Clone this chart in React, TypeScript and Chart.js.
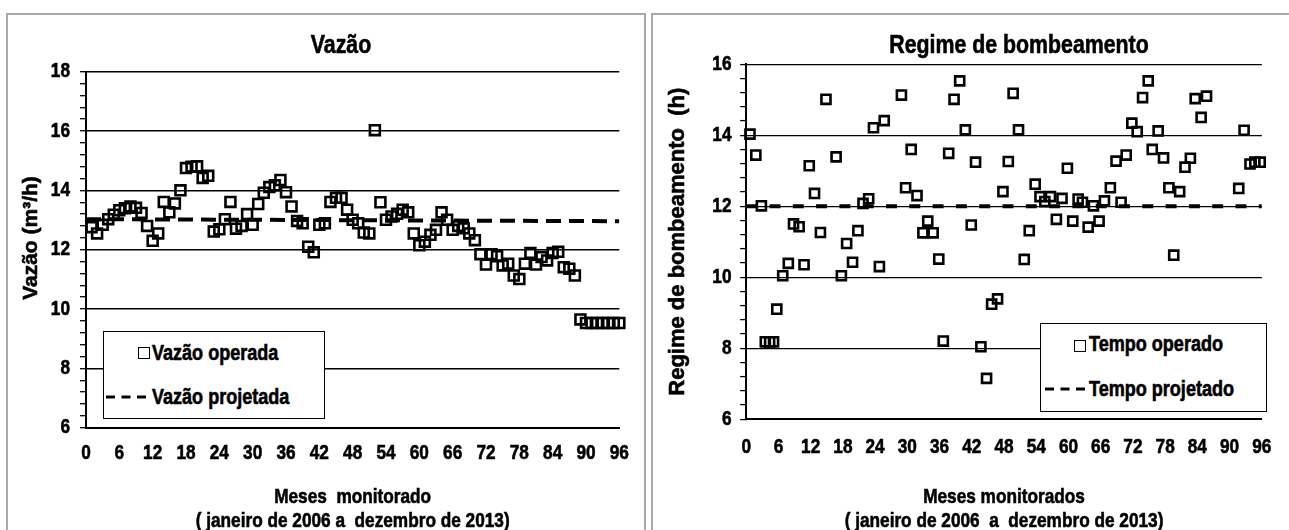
import React, { useEffect, useRef } from 'react';
import { Chart, registerables } from 'chart.js';

Chart.register(...registerables);

// "xnarrow" is a marker family: canvas text using it is drawn horizontally condensed
const NARROW_CANVAS = '"Liberation Sans", Arial, xnarrow';
const HTML_FONT = '"Liberation Sans", Arial, sans-serif';
const WIDE = '"Liberation Sans", Arial, sans-serif';
const CONDENSE = 0.82;
const TEXT_STROKE = 0.6;

// ---------- Left chart: Vazão ----------
const leftTitle = 'Vazão';
const leftYLabel = '    Vazão (m³/h)';
const leftXLabel = ['Meses  monitorado', '( janeiro de 2006 a  dezembro de 2013)'];
const leftMonths = [
  1, 2, 3, 4, 5, 6, 7, 8, 9, 10, 11, 12, 13, 14, 15, 16, 17, 18, 19, 20, 21, 22, 23, 24,
  25, 26, 27, 28, 29, 30, 31, 32, 33, 34, 35, 36, 37, 38, 39, 40, 41, 42, 43, 44, 45, 46, 47, 48,
  49, 50, 51, 52, 53, 54, 55, 56, 57, 58, 59, 60, 61, 62, 63, 64, 65, 66, 67, 68, 69, 70, 71, 72,
  73, 74, 75, 76, 77, 78, 79, 80, 81, 82, 83, 84, 85, 86, 87, 88, 89, 90, 91, 92, 93, 94, 95, 96,
];
const leftFlow = [
  12.76, 12.55, 12.84, 13.03, 13.18, 13.33, 13.40, 13.46, 13.41, 13.24, 12.80, 12.30,
  12.55, 13.61, 13.26, 13.56, 14.00, 14.75, 14.80, 14.81, 14.42, 14.49, 12.61, 12.69,
  13.03, 13.61, 12.71, 12.80, 13.20, 12.84, 13.54, 13.92, 14.11, 14.17, 14.35, 13.94,
  13.46, 12.97, 12.89, 12.10, 11.91, 12.84, 12.89, 13.61, 13.75, 13.75, 13.35, 13.01,
  12.89, 12.58, 12.55, 16.03, 13.60, 13.01, 13.12, 13.21, 13.35, 13.26, 12.55, 12.15,
  12.27, 12.50, 12.67, 13.26, 13.01, 12.67, 12.80, 12.72, 12.55, 12.32, 11.85, 11.50,
  11.85, 11.78, 11.47, 11.53, 11.13, 11.01, 11.53, 11.89, 11.50, 11.75, 11.64, 11.89,
  11.93, 11.41, 11.36, 11.13, 9.65, 9.53, 9.53, 9.53, 9.53, 9.53, 9.53, 9.53,
];
const leftProjMonths = [0, 96];
const leftProjFlow = [13.03, 12.96];
const leftYMin = 6;
const leftYMax = 18;
const leftLegend = ['Vazão operada', 'Vazão projetada'];

// ---------- Right chart: Regime de bombeamento ----------
const rightTitle = 'Regime de bombeamento';
const rightYLabel = 'Regime de bombeamento  (h)';
const rightXLabel = ['Meses monitorados', '( janeiro de 2006  a  dezembro de 2013)'];
const rightMonths = [
  0.70, 1.79, 2.83, 3.56, 4.36, 5.09, 5.70, 6.80, 7.84, 8.81, 9.85, 10.77, 11.74, 12.72,
  13.82, 14.85, 16.74, 17.72, 18.70, 19.80, 20.80, 21.75, 22.80, 23.70, 24.80, 25.70,
  28.90, 29.68, 30.72, 31.80, 32.90, 33.80, 34.80, 35.85, 36.70, 37.70, 38.70, 39.75,
  40.80, 41.90, 42.70, 43.70, 44.75, 45.70, 46.80, 47.80, 48.80, 49.70, 50.70, 51.77,
  52.70, 53.80, 54.70, 55.60, 56.65, 57.75, 58.80, 59.80, 60.80, 61.80, 62.60, 63.67,
  64.65, 65.70, 66.70, 67.80, 68.86, 69.80, 70.75, 71.80, 72.80, 73.80, 74.85, 75.60,
  76.70, 77.70, 78.70, 79.60, 80.70, 81.70, 82.70, 83.60, 84.70, 85.70, 91.70, 92.70,
  93.80, 94.70, 95.70,
];
const rightHours = [
  14.03, 13.44, 12.01, 8.18, 8.18, 8.18, 9.10, 10.04, 10.39, 11.50, 11.42, 10.35, 13.14, 12.36,
  11.26, 15.01, 13.39, 10.04, 10.95, 10.42, 11.31, 12.08, 12.21, 14.21, 10.30, 14.41,
  15.13, 12.52, 13.60, 12.30, 11.25, 11.58, 11.25, 10.51, 8.20, 13.49, 15.01, 15.53,
  14.15, 11.47, 13.24, 8.04, 7.15, 9.24, 9.39, 12.41, 13.26, 15.18, 14.15, 10.50,
  11.31, 12.62, 12.27, 12.13, 12.27, 11.63, 12.22, 13.07, 11.58, 12.20, 12.11, 11.41,
  12.01, 11.58, 12.15, 12.52, 13.27, 12.11, 13.44, 14.34, 14.10, 15.06, 15.53, 13.60,
  14.12, 13.36, 12.52, 10.62, 12.41, 13.10, 13.35, 15.03, 14.50, 15.10, 12.50, 14.14,
  13.19, 13.24, 13.24,
];
const rightProjMonths = [0, 96];
const rightProjHours = [12.0, 12.0];
const rightYMin = 6;
const rightYMax = 16;
const rightLegend = ['Tempo operado', 'Tempo projetado'];

const xTickStep = 6;
const yMajorStep = 2;
const yMinorStep = 0.4;

type Cfg = {
  months: number[];
  values: number[];
  projMonths: number[];
  projValues: number[];
  yMin: number;
  yMax: number;
  yLabel: string;
  xLabel: string[];
  yWidth: number;
  xHeight: number;
  padTop: number;
  padRight: number;
  yTickPad: number;
  xTickPad: number;
  yTitlePad: number;
  yTitleSize: number;
  pointRadius: number;
  pointBorder: number;
  dashWidth: number;
  dash: number[];
  gridWidth: number;
};

function isMajor(v: number) {
  const r = v / yMajorStep;
  return Math.abs(r - Math.round(r)) < 1e-6;
}

function heavyText(canvas: HTMLCanvasElement) {
  const ctx = canvas.getContext('2d') as any;
  if (!ctx || ctx.__patched) return;
  const origFill = ctx.fillText.bind(ctx);
  const origStroke = ctx.strokeText.bind(ctx);
  const draw = (text: string, x: number, y: number) => {
    origFill(text, x, y);
    ctx.save();
    ctx.lineWidth = TEXT_STROKE;
    ctx.strokeStyle = ctx.fillStyle;
    ctx.setLineDash([]);
    origStroke(text, x, y);
    ctx.restore();
  };
  ctx.fillText = (text: string, x: number, y: number) => {
    if (String(ctx.font).indexOf('xnarrow') >= 0) {
      ctx.save();
      ctx.translate(x, y);
      ctx.scale(CONDENSE, 1);
      draw(text, 0, 0);
      ctx.restore();
    } else {
      draw(text, x, y);
    }
  };
  ctx.__patched = true;
}

function makeChart(canvas: HTMLCanvasElement, c: Cfg) {
  heavyText(canvas);
  return new Chart(canvas, {
    type: 'scatter',
    data: {
      datasets: [
        {
          label: 'operado',
          data: c.months.map((m, i) => ({ x: m, y: c.values[i] })),
          showLine: false,
          pointStyle: 'rect',
          pointRadius: c.pointRadius,
          pointHoverRadius: c.pointRadius,
          borderColor: '#000',
          pointBorderColor: '#000',
          borderWidth: c.pointBorder,
          pointBorderWidth: c.pointBorder,
          backgroundColor: 'transparent',
          pointBackgroundColor: 'transparent',
          clip: false,
          order: 1,
        } as any,
        {
          label: 'projetado',
          data: c.projMonths.map((m, i) => ({ x: m, y: c.projValues[i] })),
          showLine: true,
          pointRadius: 0,
          borderColor: '#000',
          borderWidth: c.dashWidth,
          borderDash: c.dash,
          fill: false,
          order: 2,
        } as any,
      ],
    },
    options: {
      animation: false,
      responsive: false,
      maintainAspectRatio: false,
      events: [],
      layout: { padding: { top: c.padTop, right: c.padRight, left: 0, bottom: 0 } },
      plugins: {
        legend: { display: false },
        tooltip: { enabled: false },
        title: { display: false },
      },
      scales: {
        x: {
          type: 'linear',
          min: 0,
          max: 96,
          afterBuildTicks: (s: any) => {
            const t = [];
            for (let v = 0; v <= 96; v += xTickStep) t.push({ value: v });
            s.ticks = t;
          },
          afterFit: (s: any) => {
            s.height = c.xHeight;
          },
          ticks: {
            autoSkip: false,
            maxRotation: 0,
            padding: c.xTickPad,
            color: '#000',
            font: { family: NARROW_CANVAS, size: 21, weight: 'bold' },
          },
          grid: { drawOnChartArea: false, drawTicks: false },
          border: { display: true, color: '#000', width: 2 },
          title: {
            display: true,
            text: c.xLabel,
            color: '#000',
            font: { family: NARROW_CANVAS, size: 21, weight: 'bold', lineHeight: 1.15 },
            padding: { top: 0, bottom: 0 },
          },
        },
        y: {
          type: 'linear',
          min: c.yMin,
          max: c.yMax,
          afterBuildTicks: (s: any) => {
            const t = [];
            const n = Math.round((c.yMax - c.yMin) / yMinorStep);
            for (let i = 0; i <= n; i++) t.push({ value: Math.round((c.yMin + i * yMinorStep) * 10) / 10 });
            s.ticks = t;
          },
          afterFit: (s: any) => {
            s.width = c.yWidth;
          },
          ticks: {
            autoSkip: false,
            padding: c.yTickPad,
            color: '#000',
            font: { family: NARROW_CANVAS, size: 21, weight: 'bold' },
            callback: (v: any) => (isMajor(Number(v)) ? String(Math.round(Number(v))) : ''),
          },
          grid: {
            color: (ctx: any) =>
              ctx.tick && isMajor(ctx.tick.value) && ctx.tick.value !== c.yMin ? '#000' : 'rgba(0,0,0,0)',
            lineWidth: c.gridWidth,
            drawTicks: true,
            tickLength: 6,
            tickColor: '#000',
            tickWidth: 1.3,
          },
          border: { display: true, color: '#000', width: 2 },
          title: {
            display: true,
            text: c.yLabel,
            color: '#000',
            font: { family: WIDE, size: c.yTitleSize, weight: 'bold', lineHeight: 1.2 },
            padding: { top: c.yTitlePad, bottom: 0 },
          },
        },
      },
    } as any,
  });
}

function Legend(props: {
  left: number;
  top: number;
  width: number;
  height: number;
  labels: string[];
  sqX: number;
  sqY: number;
  textX: number;
  row1Y: number;
  row2Y: number;
  dashX: number;
}) {
  const p = props;
  const b = 1.5;
  const txt: React.CSSProperties = {
    position: 'absolute',
    left: p.textX - p.left - b,
    whiteSpace: 'nowrap',
    lineHeight: 1,
    transform: `translateY(-50%) scaleX(${CONDENSE})`,
    transformOrigin: 'left center',
  };
  return (
    <div
      style={{
        position: 'absolute',
        left: p.left,
        top: p.top,
        width: p.width,
        height: p.height,
        border: `${b}px solid #000`,
        boxSizing: 'border-box',
        background: '#fff',
        fontFamily: HTML_FONT,
        fontWeight: 'bold',
        fontSize: 22,
        color: '#000',
        WebkitTextStroke: `${TEXT_STROKE}px #000`,
      }}
    >
      <div
        style={{
          position: 'absolute',
          left: p.sqX - p.left - b,
          top: p.sqY - p.top - b,
          width: 12,
          height: 12,
          border: '1.5px solid #000',
          boxSizing: 'border-box',
        }}
      />
      <div style={{ ...txt, top: p.row1Y - p.top - b }}>{p.labels[0]}</div>
      <svg
        width={44}
        height={6}
        style={{ position: 'absolute', left: p.dashX - p.left - b, top: p.row2Y - p.top - b - 3 }}
      >
        <line x1={0} y1={3} x2={40} y2={3} stroke="#000" strokeWidth={3} strokeDasharray="9 6.5" />
      </svg>
      <div style={{ ...txt, top: p.row2Y - p.top - b }}>{p.labels[1]}</div>
    </div>
  );
}

export default function App() {
  const leftRef = useRef<HTMLCanvasElement>(null);
  const rightRef = useRef<HTMLCanvasElement>(null);

  useEffect(() => {
    const charts: Chart[] = [];
    if (leftRef.current) {
      charts.push(
        makeChart(leftRef.current, {
          months: leftMonths,
          values: leftFlow,
          projMonths: leftProjMonths,
          projValues: leftProjFlow,
          yMin: leftYMin,
          yMax: leftYMax,
          yLabel: leftYLabel,
          xLabel: leftXLabel,
          yWidth: 78,
          xHeight: 105.3,
          padTop: 56.7,
          padRight: 24,
          yTickPad: 10,
          xTickPad: 13,
          yTitlePad: 11,
          yTitleSize: 21,
          pointRadius: 7,
          pointBorder: 2.6,
          dashWidth: 4,
          dash: [15, 8],
          gridWidth: 1.4,
        })
      );
    }
    if (rightRef.current) {
      charts.push(
        makeChart(rightRef.current, {
          months: rightMonths,
          values: rightHours,
          projMonths: rightProjMonths,
          projValues: rightProjHours,
          yMin: rightYMin,
          yMax: rightYMax,
          yLabel: rightYLabel,
          xLabel: rightXLabel,
          yWidth: 93.2,
          xHeight: 113.8,
          padTop: 49.2,
          padRight: 18.8,
          yTickPad: 8.7,
          xTickPad: 15.5,
          yTitlePad: 12,
          yTitleSize: 22,
          pointRadius: 6.4,
          pointBorder: 2.6,
          dashWidth: 4,
          dash: [11, 12.3],
          gridWidth: 1.2,
        })
      );
    }
    return () => charts.forEach((c) => c.destroy());
  }, []);

  const titleStyle: React.CSSProperties = {
    position: 'absolute',
    transform: `translate(-50%, -50%) scaleX(${CONDENSE})`,
    fontFamily: HTML_FONT,
    fontWeight: 'bold',
    fontSize: 26,
    lineHeight: 1,
    whiteSpace: 'nowrap',
    color: '#000',
    WebkitTextStroke: `${TEXT_STROKE}px #000`,
  };

  return (
    <div
      style={{
        position: 'fixed',
        left: 0,
        top: 0,
        width: 1289,
        height: 530,
        overflow: 'hidden',
        background: '#fff',
      }}
    >
      <div
        style={{
          position: 'absolute',
          left: 6,
          top: 13,
          width: 640,
          height: 600,
          border: '2px solid #a9a9a9',
          boxSizing: 'border-box',
        }}
      />
      <div
        style={{
          position: 'absolute',
          left: 651,
          top: 13,
          width: 700,
          height: 600,
          border: '2px solid #a9a9a9',
          boxSizing: 'border-box',
        }}
      />
      <canvas
        ref={leftRef}
        width={636}
        height={518}
        style={{ position: 'absolute', left: 8, top: 15, width: 636, height: 518 }}
      />
      <canvas
        ref={rightRef}
        width={636}
        height={518}
        style={{ position: 'absolute', left: 653, top: 15, width: 636, height: 518 }}
      />
      <div style={{ ...titleStyle, left: 341, top: 44 }}>{leftTitle}</div>
      <div style={{ ...titleStyle, left: 1019, top: 44 }}>{rightTitle}</div>
      <Legend
        left={103}
        top={331}
        width={222}
        height={88}
        labels={leftLegend}
        sqX={138}
        sqY={347}
        textX={152}
        row1Y={353}
        row2Y={397}
        dashX={106}
      />
      <Legend
        left={1040}
        top={323}
        width={227}
        height={89}
        labels={rightLegend}
        sqX={1074}
        sqY={340}
        textX={1089}
        row1Y={344}
        row2Y={389}
        dashX={1045}
      />
    </div>
  );
}
